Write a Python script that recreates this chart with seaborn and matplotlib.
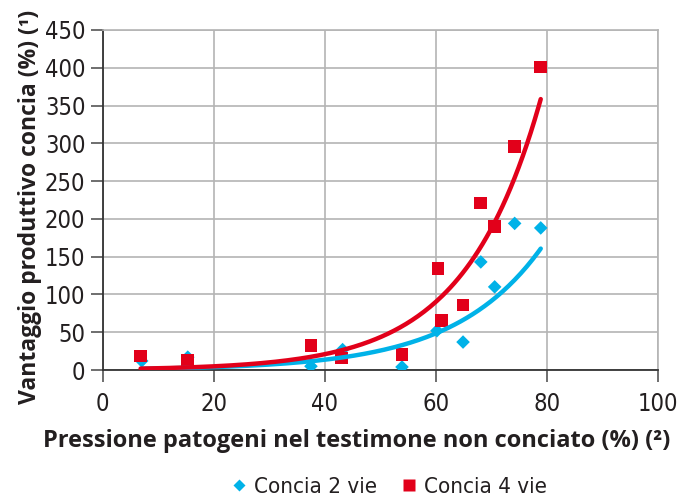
import numpy as np
import pandas as pd
import matplotlib
matplotlib.use("Agg")
import matplotlib.pyplot as plt
import seaborn as sns
from matplotlib.lines import Line2D

# Data
x2 = [7.0, 15.3, 37.5, 43.2, 53.9, 60.2, 64.9, 68.1, 70.6, 74.2, 78.9]
y2 = [12, 17, 5, 27, 4, 52, 37, 143, 110, 194, 188]
x4 = [6.8, 15.3, 37.5, 43.0, 53.9, 60.4, 61.0, 64.9, 68.1, 70.6, 74.2, 78.9]
y4 = [18.5, 13, 32, 16, 21, 134, 66, 86, 221, 190, 296, 401]
series_names = ["Concia 2 vie", "Concia 4 vie"]
x_ticks = [0, 20, 40, 60, 80, 100]
y_ticks = [0, 50, 100, 150, 200, 250, 300, 350, 400, 450]
# exponential trendline coefficients (y = a * exp(b * x))
trend2 = [1.08, 0.0634]
trend4 = [1.13, 0.0730]

blue = "#00b2e8"
red = "#e2001a"
txt = "#231f20"

sns.set_theme(style="white")
cond = ['DejaVu Sans Condensed', 'DejaVu Sans']
plt.rcParams['font.family'] = cond

df2 = pd.DataFrame({"x": x2, "y": y2, "s": series_names[0]})
df4 = pd.DataFrame({"x": x4, "y": y4, "s": series_names[1]})

def exp_trend(xs, coef):
    xx = np.linspace(min(xs), max(xs), 200)
    return pd.DataFrame({"x": xx, "y": coef[0] * np.exp(coef[1] * xx)})

fig = plt.figure(figsize=(6.81, 4.99), dpi=100)
ax = fig.add_axes([0.151, 0.2585, 0.815, 0.6815])

sns.scatterplot(data=df2, x="x", y="y", marker="D", s=48, color=blue,
                edgecolor="none", ax=ax, zorder=3)
sns.scatterplot(data=df4, x="x", y="y", marker="s", s=85, color=red,
                edgecolor="none", ax=ax, zorder=4)
t2 = exp_trend(x2, trend2)
t4 = exp_trend(x4, trend4)
sns.lineplot(data=t2, x="x", y="y", color=blue, lw=3.2, ax=ax, zorder=5,
             solid_capstyle="round")
sns.lineplot(data=t4, x="x", y="y", color=red, lw=3.2, ax=ax, zorder=6,
             solid_capstyle="round")

ax.set_xlim(0, 100)
ax.set_ylim(0, 450)
ax.set_xticks(x_ticks)
ax.set_yticks(y_ticks)
ax.grid(True, color="#b4b4b4", lw=1.2)
ax.set_axisbelow(True)
for side in ["top", "right"]:
    ax.spines[side].set_color("#b4b4b4")
    ax.spines[side].set_linewidth(1.2)
for side in ["left", "bottom"]:
    ax.spines[side].set_color("#333333")
    ax.spines[side].set_linewidth(1.3)
ax.tick_params(axis="both", which="both", direction="out", length=8.5,
               width=1.2, color="#555555", labelsize=17, labelcolor=txt,
               bottom=True, left=True)
ax.tick_params(axis="x", pad=7)
ax.tick_params(axis="y", pad=4)
for lab in ax.get_xticklabels() + ax.get_yticklabels():
    lab.set_fontstretch("condensed")

ax.set_xlabel("Pressione patogeni nel testimone non conciato (%) (²)",
              fontsize=17, fontweight="bold", color=txt,
              family=["Open Sans", "DejaVu Sans"])
ax.xaxis.set_label_coords(0.4577, -0.172)
ax.set_ylabel("Vantaggio produttivo concia (%) (¹)",
              fontsize=16.5, fontweight="bold", color=txt,
              family=["Open Sans", "DejaVu Sans"])
ax.yaxis.set_label_coords(-0.11, 0.48)

handles = [Line2D([], [], marker="D", ls="none", color=blue, markersize=6,
                  markeredgecolor="none"),
           Line2D([], [], marker="s", ls="none", color=red, markersize=9,
                  markeredgecolor="none")]
leg = fig.legend(handles, series_names, loc="center", bbox_to_anchor=(0.569, 0.024),
                 ncol=2, frameon=False, fontsize=16, handletextpad=0.2,
                 columnspacing=0.9, handlelength=1.0, labelcolor=txt,
                 borderpad=0.2)
for t in leg.get_texts():
    t.set_fontstretch("condensed")

fig.savefig("out.png", dpi=100)
